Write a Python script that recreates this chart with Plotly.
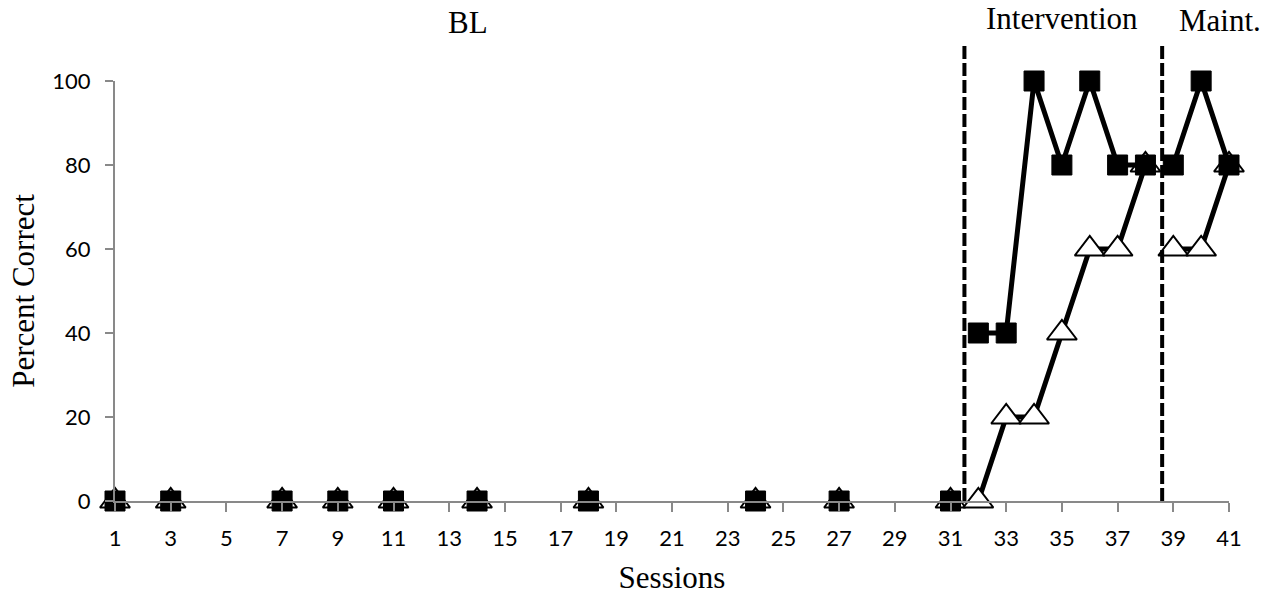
import plotly.graph_objects as go

# ---- data ----
bl_sessions = [1, 3, 7, 9, 11, 14, 18, 24, 27, 31]
bl_squares = [0, 0, 0, 0, 0, 0, 0, 0, 0, 0]
bl_triangles = [0, 0, 0, 0, 0, 0, 0, 0, 0, 0]

int_sessions = [32, 33, 34, 35, 36, 37, 38]
int_squares = [40, 40, 100, 80, 100, 80, 80]
int_triangles = [0, 20, 20, 40, 60, 60, 80]

mt_sessions = [39, 40, 41]
mt_squares = [80, 100, 80]
mt_triangles = [60, 60, 80]

x_ticks = [1, 3, 5, 7, 9, 11, 13, 15, 17, 19, 21, 23, 25, 27, 29, 31, 33, 35, 37, 39, 41]
y_ticks = [0, 20, 40, 60, 80, 100]

phase_lines = [31.5, 38.6]
phase_labels = ["BL", "Intervention", "Maint."]
phase_label_x = [13.66, 35.0, 40.66]
phase_label_y = [1.139, 1.150, 1.143]

# ---- style ----
SERIF = "Liberation Serif, Times New Roman, serif"
SANS = "Lato, Carlito, Calibri, sans-serif"
tri_marker = dict(symbol="triangle-up", size=26, color="white",
                  line=dict(color="black", width=2))
sq_marker = dict(symbol="square", size=20, color="black",
                 line=dict(color="black", width=1))

fig = go.Figure()

def joined(xa, ya, xb, yb):
    return list(xa) + [None] + list(xb), list(ya) + [None] + list(yb)

tx, ty = joined(int_sessions, int_triangles, mt_sessions, mt_triangles)
sx, sy = joined(int_sessions, int_squares, mt_sessions, mt_squares)

fig.add_trace(go.Scatter(x=bl_sessions, y=bl_triangles, mode="markers",
                         marker=tri_marker, cliponaxis=False, showlegend=False))
fig.add_trace(go.Scatter(x=tx, y=ty, mode="lines+markers",
                         line=dict(color="black", width=5),
                         marker=tri_marker, cliponaxis=False, showlegend=False,
                         connectgaps=False))
fig.add_trace(go.Scatter(x=bl_sessions, y=bl_squares, mode="markers",
                         marker=sq_marker, cliponaxis=False, showlegend=False))
fig.add_trace(go.Scatter(x=sx, y=sy, mode="lines+markers",
                         line=dict(color="black", width=5),
                         marker=sq_marker, cliponaxis=False, showlegend=False,
                         connectgaps=False))

for px in phase_lines:
    fig.add_shape(type="line", xref="x", yref="paper", x0=px, x1=px,
                  y0=0, y1=1.09,
                  line=dict(color="black", width=4, dash="13px,4px"))

for lbl, lx, ly in zip(phase_labels, phase_label_x, phase_label_y):
    fig.add_annotation(text=lbl, x=lx, xref="x", y=ly, yref="paper",
                       showarrow=False, yanchor="middle",
                       font=dict(family=SERIF, size=31, color="black"))

fig.update_layout(
    width=1275, height=598,
    margin=dict(l=115, r=46, t=81, b=97),
    plot_bgcolor="white", paper_bgcolor="white",
    xaxis=dict(range=[1, 41], tickmode="array", tickvals=x_ticks,
               ticks="outside", ticklen=9, tickcolor="#898989", tickwidth=2,
               showline=True, linecolor="#898989", linewidth=2,
               showgrid=False, zeroline=False, ticklabelstandoff=8,
               automargin=False,
               tickfont=dict(family=SANS, size=22, color="black"),
               title=dict(text="Sessions", standoff=16,
                          font=dict(family=SERIF, size=31, color="black"))),
    yaxis=dict(range=[0, 100], tickmode="array", tickvals=y_ticks,
               ticks="outside", ticklen=8, tickcolor="#898989", tickwidth=2,
               showline=True, linecolor="#898989", linewidth=2,
               showgrid=False, zeroline=False, ticklabelstandoff=10,
               automargin=False,
               tickfont=dict(family=SANS, size=22, color="black"),
               title=dict(text="Percent Correct", standoff=8,
                          font=dict(family=SERIF, size=31, color="black"))),
)

fig.write_html("out.html", config={"displayModeBar": False},
               post_script="document.body.style.margin='0';document.body.style.overflow='hidden';")
